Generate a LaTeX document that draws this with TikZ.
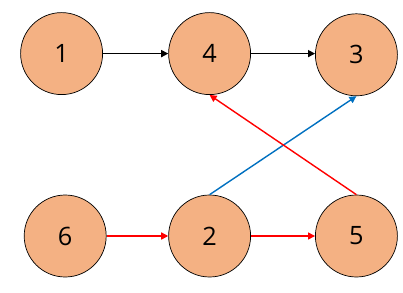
\documentclass[tikz,border=0pt]{standalone}
\usepackage{fontspec}
\setmainfont{Open Sans}
\usetikzlibrary{arrows.meta}
\definecolor{nodefill}{HTML}{F4B183}
\definecolor{edgeblue}{HTML}{0070C0}
\definecolor{edgered}{HTML}{FF0000}
\tikzset{
  vert/.style={circle,draw=black,line width=0.5pt,fill=nodefill,minimum size=2.05cm,inner sep=0pt,font=\fontsize{18}{20}\selectfont},
  edge/.style={-{Triangle[length=5pt,width=5pt]},line width=1pt}
}

\begin{document}
\begin{tikzpicture}
\useasboundingbox (0,0) rectangle (10.075,7.3);
\node[vert] (n1) at (1.54,5.96) {1};
\node[vert] (n4) at (5.24,5.96) {4};
\node[vert] (n3) at (8.91,5.93) {3};
\node[vert] (n6) at (1.63,1.4) {6};
\node[vert] (n2) at (5.24,1.4) {2};
\node[vert] (n5) at (8.91,1.4) {5};
\draw[edge] (n1)--(n4);
\draw[edge] (n4.east)--(n3.west |- n4.east);
\draw[edge,edgered] (n6)--(n2);
\draw[edge,edgered] (n2)--(n5);
\draw[edge,edgeblue] (n2.north)--(n3.south);
\draw[edge,edgered] (n5.north)--(n4.south);
\end{tikzpicture}
\end{document}
